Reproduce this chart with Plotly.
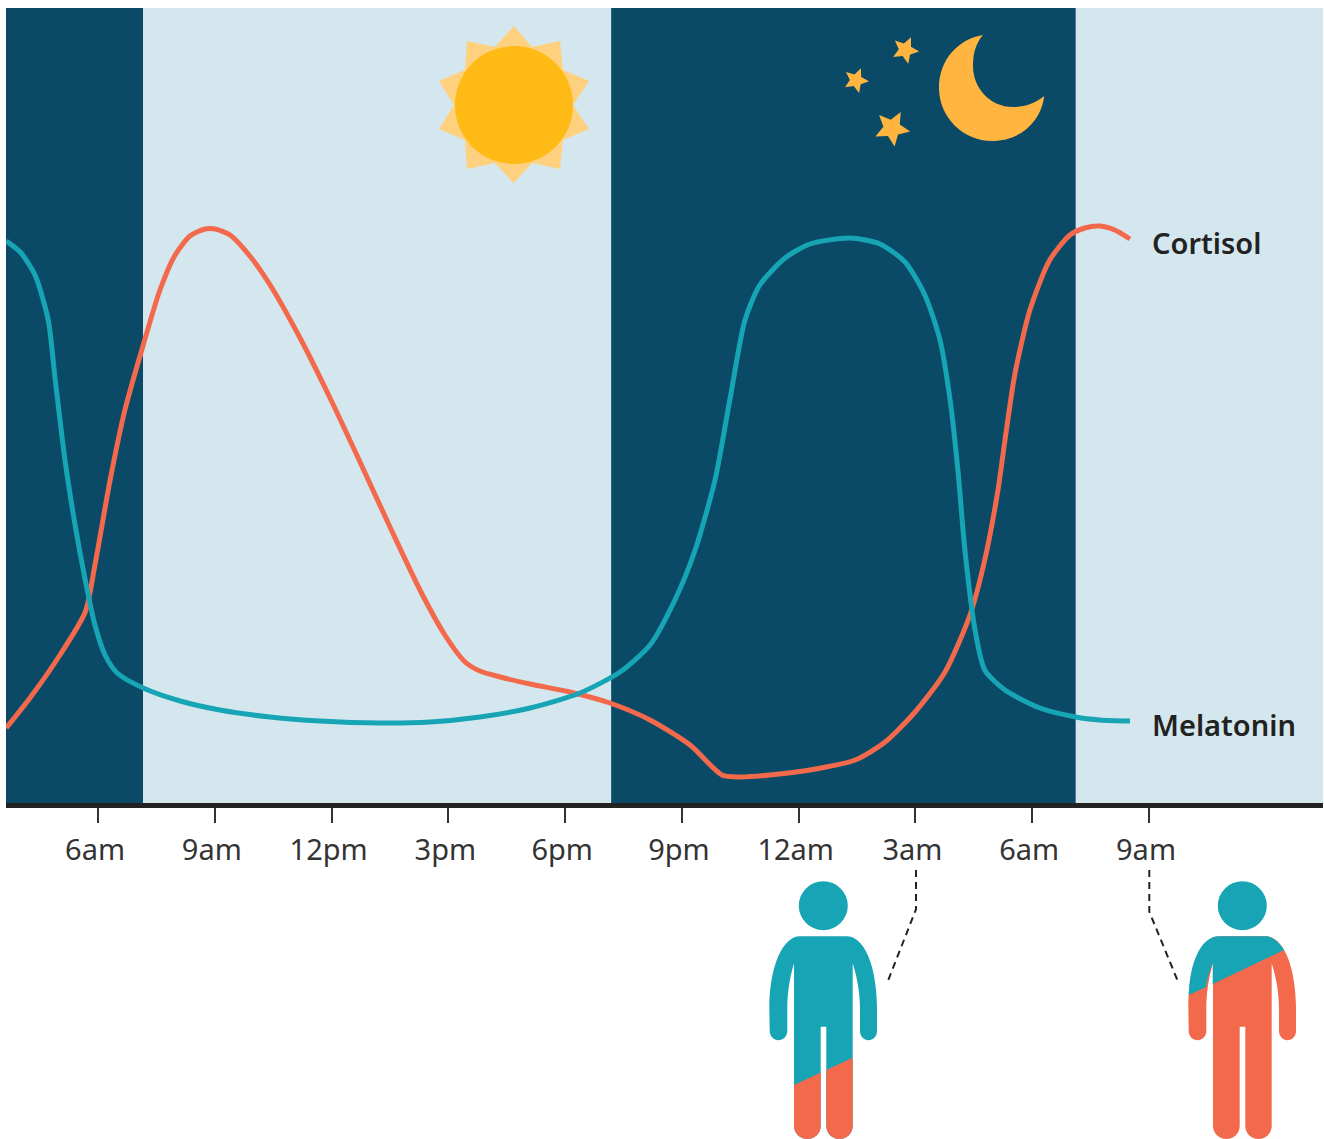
import math
import plotly.graph_objects as go

# ---------- data ----------
tick_hours = [6, 9, 12, 15, 18, 21, 24, 27, 30, 33]
tick_labels = ["6am", "9am", "12pm", "3pm", "6pm", "9pm", "12am", "3am", "6am", "9am"]

cortisol_hours = [3.64, 4.25, 5.02, 5.67, 5.92, 6.31, 6.69, 7.16, 7.59, 7.98, 8.36, 8.75, 9.01, 9.39, 9.90,
                  10.42, 11.19, 11.96, 12.73, 13.50, 14.27, 14.91, 15.43, 15.81, 16.33, 17.10, 18.12, 19.15,
                  20.18, 21.21, 22.03, 22.49, 23.26, 24.29, 25.45, 26.22, 26.99, 27.76, 28.40, 28.78, 29.12,
                  29.30, 29.55, 29.94, 30.45, 30.97, 31.35, 31.74, 32.12, 32.51]
cortisol_level = [75, 105, 148, 191, 238, 323, 393, 458, 513, 548, 567, 574, 574, 568, 547,
                  518, 465, 405, 341, 276, 213, 168, 141, 132, 126, 119, 111, 100,
                  83, 58, 28, 26, 28, 33, 43, 61, 91, 131, 188, 243, 313,
                  363, 428, 493, 543, 568, 575, 577, 573, 564]

melatonin_hours = [3.64, 4.00, 4.38, 4.72, 4.90, 5.15, 5.41, 5.67, 5.92, 6.18, 6.49, 7.16, 8.11, 9.13, 10.42,
                   11.70, 13.24, 14.53, 15.81, 17.10, 18.38, 19.41, 20.18, 20.82, 21.34, 21.85, 22.23, 22.62,
                   23.00, 23.65, 24.29, 25.32, 26.09, 26.73, 27.24, 27.63, 27.89, 28.09, 28.27, 28.53, 28.78,
                   29.30, 30.20, 31.12, 31.74, 32.51]
melatonin_level = [562, 551, 528, 483, 423, 343, 278, 223, 178, 148, 130, 115, 102, 93, 86,
                   82, 80, 81, 86, 95, 110, 131, 158, 203, 253, 323, 403, 483,
                   518, 545, 559, 565, 559, 541, 508, 463, 403, 333, 253, 173, 133,
                   113, 95, 86, 83, 82]

x_range = [3.635, 37.47]
night_spans = [(3.635, 7.16), (19.18, 31.12)]
day_spans = [(7.16, 19.18), (31.12, 37.47)]

# ---------- colours ----------
DARK = "#0B4A66"
LIGHT = "#D5E7EE"
TEAL = "#17A5B5"
ORANGE = "#F3694B"
INK = "#222222"

W, H = 1324, 1139
PX = dict(xref="x2", yref="y2")


def star_path(cx, cy, r, rot):
    pts = []
    for i in range(10):
        rad = r if i % 2 == 0 else r * 0.47
        a = math.radians(rot + i * 36)
        pts.append((cx + rad * math.sin(a), cy - rad * math.cos(a)))
    return "M " + " L ".join(f"{x:.1f},{y:.1f}" for x, y in pts) + " Z"


def silhouette(d):
    f = lambda x: f"{x + d:.1f}"
    return (
        f"M {f(800)},936.3 L {f(846.7)},936.3 "
        f"C {f(864)},936.3 {f(876.5)},965 {f(877)},1006.7 "
        f"L {f(877)},1031 C {f(877)},1036.5 {f(873)},1040.3 {f(868.5)},1040.3 "
        f"C {f(864)},1040.3 {f(860)},1036.5 {f(860)},1031 "
        f"L {f(860)},1010 C {f(860)},995 {f(858)},980 {f(852.7)},963.3 "
        f"L {f(852.7)},1125.7 C {f(852.7)},1133 {f(847)},1139 {f(839.5)},1139 "
        f"C {f(832)},1139 {f(826.3)},1133 {f(826.3)},1125.7 "
        f"L {f(826.3)},1026.7 L {f(820.7)},1026.7 L {f(820.7)},1125.7 "
        f"C {f(820.7)},1133 {f(815)},1139 {f(807.3)},1139 "
        f"C {f(800)},1139 {f(794)},1133 {f(794)},1125.7 "
        f"L {f(794)},963.3 C {f(789)},980 {f(787.3)},995 {f(787.3)},1010 "
        f"L {f(787.3)},1031 C {f(787.3)},1036.5 {f(783)},1040.3 {f(778.5)},1040.3 "
        f"C {f(774)},1040.3 {f(769.7)},1036.5 {f(769.7)},1031 "
        f"L {f(769.3)},1006.7 C {f(770)},965 {f(783)},936.3 {f(800)},936.3 Z"
    )


shapes = []
for a, b in night_spans:
    shapes.append(dict(type="rect", xref="x", yref="y domain", x0=a, x1=b, y0=0, y1=1,
                       fillcolor=DARK, line_width=0, layer="below"))
for a, b in day_spans:
    shapes.append(dict(type="rect", xref="x", yref="y domain", x0=a, x1=b, y0=0, y1=1,
                       fillcolor=LIGHT, line_width=0, layer="below"))

# sun
sun_pts = [(513.7, 26), (532, 47), (560, 41), (563, 70), (589, 81), (573, 105), (589, 129), (563, 140),
           (560, 169), (532, 163), (513.7, 183), (495, 163), (467, 169), (465, 140), (439, 129), (454, 105),
           (439, 81), (465, 70), (467, 41), (495, 47)]
shapes.append(dict(type="path", **PX, line_width=0, fillcolor="#FFD07D",
                   path="M " + " L ".join(f"{x},{y}" for x, y in sun_pts) + " Z"))
shapes.append(dict(type="circle", **PX, x0=455, x1=573, y0=46, y1=164, fillcolor="#FFBA15", line_width=0))

# moon and stars
MOON = "#FFB540"
shapes.append(dict(type="path", **PX, line_width=0, fillcolor=MOON,
                   path="M 983,35 C 958,39 939,60 939,88 C 939,117 963,141 992,141 "
                        "C 1020,141 1041,122 1044.3,96 C 1034,104 1024,107 1013,107 "
                        "C 990,107 973,88 973,66 C 973,53 976,43 983,35 Z"))
for cx, cy, r, rot in [(905.3, 50, 14, 24), (856, 80.3, 13, 22), (892, 128.3, 18.5, 28)]:
    shapes.append(dict(type="path", **PX, line_width=0, fillcolor=MOON, path=star_path(cx, cy, r, rot)))

# person at 3am: teal with orange legs
shapes.append(dict(type="circle", **PX, x0=798.8, x1=847.8, y0=881.2, y1=930.2, fillcolor=TEAL, line_width=0))
shapes.append(dict(type="path", **PX, line_width=0, fillcolor=TEAL, path=silhouette(0)))
shapes.append(dict(type="path", **PX, line_width=0, fillcolor=ORANGE,
                   path="M 794,1085 L 820.7,1072.6 L 820.7,1125.7 C 820.7,1133 815,1139 807.3,1139 "
                        "C 800,1139 794,1133 794,1125.7 Z"))
shapes.append(dict(type="path", **PX, line_width=0, fillcolor=ORANGE,
                   path="M 826.3,1070 L 852.7,1057.7 L 852.7,1125.7 C 852.7,1133 847,1139 839.5,1139 "
                        "C 832,1139 826.3,1133 826.3,1125.7 Z"))

# person at 9am: orange with teal shoulders
shapes.append(dict(type="circle", **PX, x0=1217.8, x1=1266.8, y0=881.2, y1=930.2, fillcolor=TEAL, line_width=0))
shapes.append(dict(type="path", **PX, line_width=0, fillcolor=ORANGE, path=silhouette(419)))
shapes.append(dict(type="path", **PX, line_width=0, fillcolor=TEAL,
                   path="M 1188.7,995 C 1190,960 1202,936.3 1219,936.3 L 1265.7,936.3 "
                        "C 1272,936.3 1279,942 1284,950 L 1212.7,984 L 1212.7,963.3 "
                        "C 1209,972 1207,980 1206,987 Z"))

# leader lines
for p in ["M 916,870 L 916,909.3 L 886.7,984", "M 1149.3,870 L 1149.3,911.7 L 1179,984"]:
    shapes.append(dict(type="path", **PX, path=p, line=dict(color=INK, width=2, dash="7px,5px")))

fig = go.Figure()
fig.add_trace(go.Scatter(x=cortisol_hours, y=cortisol_level, mode="lines", name="Cortisol",
                         line=dict(color=ORANGE, width=5, shape="spline", smoothing=0.7), showlegend=False))
fig.add_trace(go.Scatter(x=melatonin_hours, y=melatonin_level, mode="lines", name="Melatonin",
                         line=dict(color=TEAL, width=5, shape="spline", smoothing=0.7), showlegend=False))

label_font = dict(family="Noto Sans", size=29, color=INK, weight=600)
annotations = [
    dict(x=cortisol_hours[-1], y=cortisol_level[-1], xref="x", yref="y", text="Cortisol", showarrow=False,
         xanchor="left", xshift=20, yshift=-3, font=label_font),
    dict(x=melatonin_hours[-1], y=melatonin_level[-1], xref="x", yref="y", text="Melatonin", showarrow=False,
         xanchor="left", xshift=20, yshift=-3, font=label_font),
]

fig.update_layout(
    width=W, height=H, margin=dict(l=0, r=0, t=0, b=0, pad=0),
    paper_bgcolor="white", plot_bgcolor="rgba(0,0,0,0)",
    showlegend=False, shapes=shapes, annotations=annotations,
    font=dict(family="Noto Sans", color="#333333"),
    xaxis=dict(domain=[6 / W, 1323 / W], range=x_range, anchor="y",
               tickmode="array", tickvals=tick_hours, ticktext=tick_labels,
               ticks="outside", ticklen=15, tickwidth=2, tickcolor="#333333",
               tickfont=dict(family="Noto Sans", size=29, color="#333333"),
               ticklabelshift=-3, ticklabelstandoff=2,
               showline=True, linewidth=5, linecolor=INK, showgrid=False, zeroline=False, fixedrange=True),
    yaxis=dict(domain=[1 - 803 / H, 1 - 8 / H], range=[0, 795], anchor="x", visible=False,
               showgrid=False, zeroline=False, fixedrange=True),
    xaxis2=dict(domain=[0, 1], range=[0, W], anchor="y2", visible=False, fixedrange=True),
    yaxis2=dict(domain=[0, 1], range=[H, 0], anchor="x2", visible=False, fixedrange=True),
)

fig.write_html("out.html", config={"displayModeBar": False},
               post_script="document.body.style.margin='0';document.documentElement.style.overflow='hidden';")
